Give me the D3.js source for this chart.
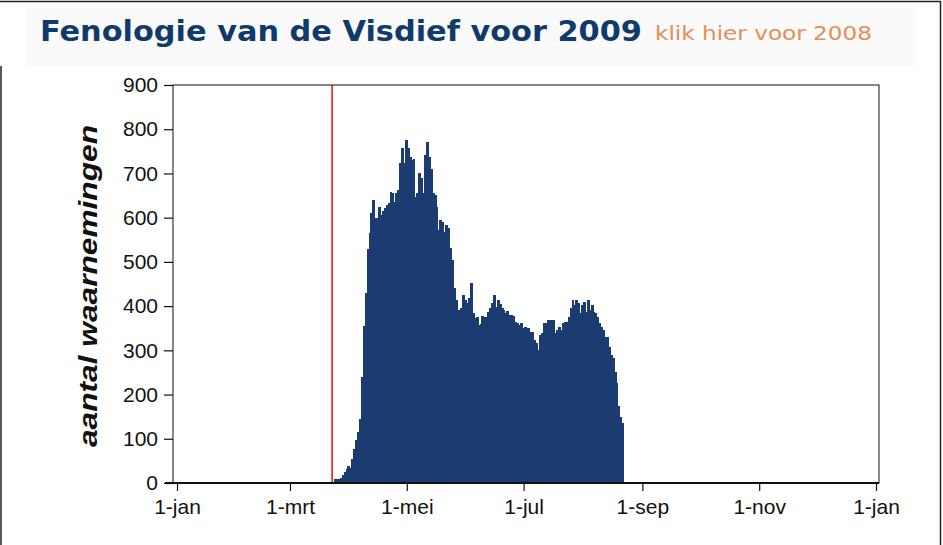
<!DOCTYPE html>
<html>
<head>
<meta charset="utf-8">
<script src="https://cdn.jsdelivr.net/npm/d3@7"></script>
<style>
  body { margin: 0; background: #fff; }
  svg { display: block; }
</style>
</head>
<body>
<svg id="chart" width="943" height="545"></svg>
<script>
// daily counts, first value belongs to firstDay
const firstDay = '2009-03-24'
const counts = [
  10, 10, 10, 12, 18, 25, 32, 38, 34, 55, 78, 97, 115, 145, 240, 355, 430, 530, 565, 610, 640, 600, 600, 625, 605,
  614, 622, 628, 633, 659, 656, 636, 655, 663, 723, 757, 723, 775, 757, 738, 730, 733, 647, 656, 701, 690, 656, 742, 770, 738, 710,
  656, 651, 625, 572, 595, 590, 568, 583, 577, 531, 504, 441, 414, 391, 320, 396, 424, 414, 407, 418, 452, 384, 373, 376, 357, 360,
  378, 376, 376, 387, 395, 407, 425, 399, 414, 405, 396, 391, 384, 388, 380, 380, 378, 365, 361, 357, 361, 350, 353, 346, 350, 342,
  342, 323, 316, 301, 335, 339, 361, 361, 369, 339, 369, 369, 339, 346, 353, 346, 361, 365, 365, 376, 396, 414, 403, 414, 407, 384,
  403, 410, 387, 414, 391, 403, 387, 384, 376, 361, 353, 346, 331, 331, 308, 289, 283, 250, 226, 173, 150, 136
]
const markerDay = '2009-03-23'
const monthNames = ['jan', 'feb', 'mrt', 'apr', 'mei', 'jun', 'jul', 'aug', 'sep', 'okt', 'nov', 'dec']
const yTicks = [0, 100, 200, 300, 400, 500, 600, 700, 800, 900]

const parse = d3.timeParse('%Y-%m-%d')
const start = parse(firstDay)
const data = counts.map((v, i) => ({ date: d3.timeDay.offset(start, i), value: v }))

const svg = d3.select('#chart')

// outer frame and title band
svg.append('rect').attr('x', 26).attr('y', 8).attr('width', 889).attr('height', 58).attr('fill', '#fafafa')
svg.append('line').attr('x1', 0).attr('x2', 941).attr('y1', 1.5).attr('y2', 1.5).attr('stroke', '#222').attr('stroke-width', 1.5)
svg.append('line').attr('x1', 940.5).attr('x2', 940.5).attr('y1', 1).attr('y2', 545).attr('stroke', '#222').attr('stroke-width', 1.5)
svg.append('line').attr('x1', 1).attr('x2', 1).attr('y1', 66).attr('y2', 545).attr('stroke', '#222').attr('stroke-width', 1.5)

svg.append('text')
  .attr('x', 40).attr('y', 41)
  .attr('font-family', 'DejaVu Sans').attr('font-weight', 'bold').attr('font-size', 27.5)
  .attr('fill', '#113a6c')
  .attr('textLength', 602).attr('lengthAdjust', 'spacingAndGlyphs')
  .text('Fenologie van de Visdief voor 2009')

svg.append('text')
  .attr('x', 655).attr('y', 40)
  .attr('font-family', 'DejaVu Sans').attr('font-size', 20)
  .attr('fill', '#e58e57')
  .attr('textLength', 217).attr('lengthAdjust', 'spacingAndGlyphs')
  .text('klik hier voor 2008')

const x = d3.scaleTime().domain([new Date(2009, 0, 1), new Date(2010, 0, 1)]).range([177, 876])
const y = d3.scaleLinear().domain([0, 900]).range([483, 85])

const plot = { left: 173, right: 879, top: 85, bottom: 483 }

svg.append('rect')
  .attr('x', plot.left).attr('y', plot.top)
  .attr('width', plot.right - plot.left).attr('height', plot.bottom - plot.top)
  .attr('fill', '#fff')

svg.append('g')
  .attr('shape-rendering', 'crispEdges')
  .selectAll('rect')
  .data(data)
  .enter()
  .append('rect')
  .attr('x', d => x(d.date))
  .attr('width', d => x(d3.timeDay.offset(d.date, 1)) - x(d.date) + 1)
  .attr('y', d => y(d.value))
  .attr('height', d => y(0) - y(d.value))
  .attr('fill', '#1c3b71')

// red marker line
svg.append('line')
  .attr('x1', x(parse(markerDay))).attr('x2', x(parse(markerDay)))
  .attr('y1', plot.top).attr('y2', plot.bottom)
  .attr('stroke', '#f00').attr('stroke-width', 1.5)

// plot frame
svg.append('rect')
  .attr('x', plot.left).attr('y', plot.top)
  .attr('width', plot.right - plot.left).attr('height', plot.bottom - plot.top)
  .attr('fill', 'none').attr('stroke', '#111').attr('stroke-width', 1)
svg.append('line')
  .attr('x1', plot.left - 8).attr('x2', plot.right)
  .attr('y1', plot.bottom).attr('y2', plot.bottom)
  .attr('stroke', '#111').attr('stroke-width', 2)

const yAxis = svg.append('g')
  .attr('transform', `translate(${plot.left},0)`)
  .call(d3.axisLeft(y).tickValues(yTicks).tickSize(9).tickPadding(6))
yAxis.select('.domain').remove()

const xAxis = svg.append('g')
  .attr('transform', `translate(0,${plot.bottom})`)
  .call(d3.axisBottom(x)
    .ticks(d3.timeMonth.every(2))
    .tickSize(8).tickPadding(8)
    .tickFormat(d => '1-' + monthNames[d.getMonth()]))
xAxis.select('.domain').remove()

svg.selectAll('.tick line').attr('stroke', '#111').attr('stroke-width', 1.2)
svg.selectAll('.tick text')
  .attr('font-family', 'Liberation Sans, Arial, sans-serif')
  .attr('font-size', 21)
  .attr('fill', '#111')

svg.append('text')
  .attr('transform', 'translate(97,286) rotate(-90)')
  .attr('text-anchor', 'middle')
  .attr('font-family', 'Liberation Sans, Arial, sans-serif')
  .attr('font-style', 'italic').attr('font-weight', 'bold')
  .attr('font-size', 25)
  .attr('fill', '#111')
  .attr('textLength', 322).attr('lengthAdjust', 'spacingAndGlyphs')
  .text('aantal waarnemingen')
</script>
</body>
</html>
